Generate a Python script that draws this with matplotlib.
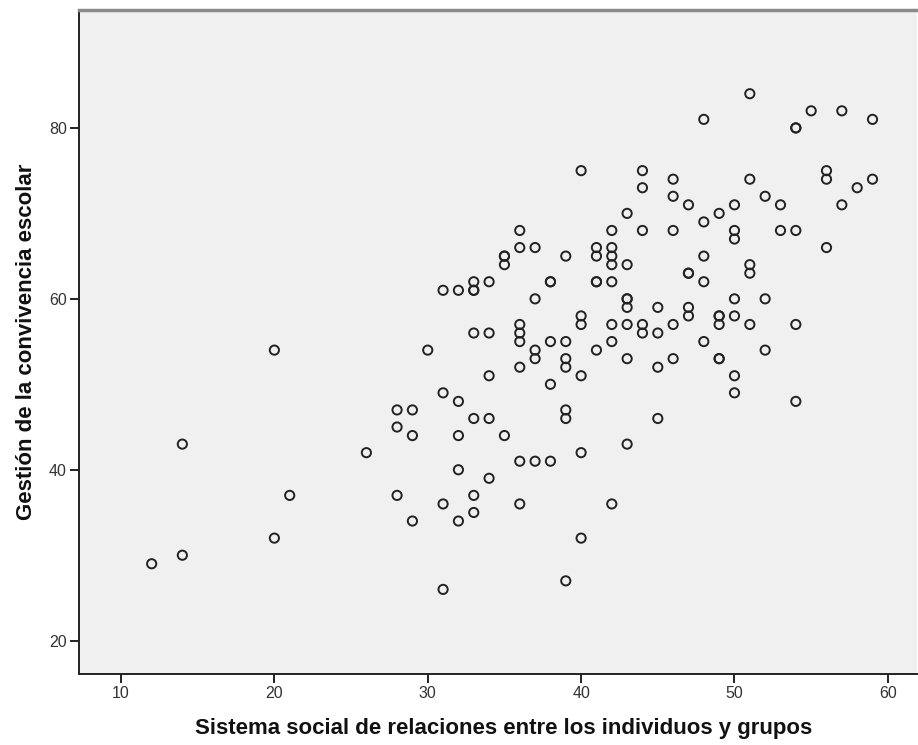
import matplotlib
matplotlib.use("Agg")
import matplotlib.pyplot as plt

# Scatter data (integer scores, repeated pairs kept)
sistema_social = [
    12, 14, 14, 20, 20, 21, 26,
    28, 28, 28, 29, 29, 29, 30,
    31, 31, 31, 31,
    32, 32, 32, 32, 32,
    33, 33, 33, 33, 33, 33, 33,
    34, 34, 34, 34, 34,
    35, 35, 35, 35,
    36, 36, 36, 36, 36, 36, 36, 36,
    37, 37, 37, 37, 37,
    38, 38, 38, 38, 38,
    39, 39, 39, 39, 39, 39, 39,
    40, 40, 40, 40, 40, 40,
    41, 41, 41, 41, 41,
    42, 42, 42, 42, 42, 42, 42, 42,
    43, 43, 43, 43, 43, 43, 43, 43,
    44, 44, 44, 44, 44,
    45, 45, 45, 45,
    46, 46, 46, 46, 46,
    47, 47, 47, 47, 47,
    48, 48, 48, 48, 48,
    49, 49, 49, 49, 49, 49,
    50, 50, 50, 50, 50, 50, 50,
    51, 51, 51, 51, 51,
    52, 52, 52,
    53, 53,
    54, 54, 54, 54, 54,
    55,
    56, 56, 56,
    57, 57,
    58,
    59, 59,
]
gestion_convivencia = [
    29, 43, 30, 54, 32, 37, 42,
    47, 45, 37, 47, 44, 34, 54,
    61, 49, 36, 26,
    61, 48, 44, 40, 34,
    62, 61, 61, 56, 46, 37, 35,
    62, 56, 51, 46, 39,
    65, 65, 64, 44,
    68, 66, 57, 56, 55, 52, 41, 36,
    66, 60, 54, 53, 41,
    62, 62, 55, 50, 41,
    65, 55, 53, 52, 47, 46, 27,
    75, 58, 57, 51, 42, 32,
    66, 65, 62, 62, 54,
    68, 66, 65, 64, 62, 57, 55, 36,
    70, 64, 60, 60, 59, 57, 53, 43,
    75, 73, 68, 57, 56,
    59, 56, 52, 46,
    74, 72, 68, 57, 53,
    71, 63, 63, 59, 58,
    81, 69, 65, 62, 55,
    70, 58, 58, 57, 53, 53,
    71, 68, 67, 60, 58, 51, 49,
    84, 74, 64, 63, 57,
    72, 60, 54,
    71, 68,
    80, 80, 68, 57, 48,
    82,
    75, 74, 66,
    82, 71,
    73,
    81, 74,
]
x_ticks = [10, 20, 30, 40, 50, 60]
y_ticks = [20, 40, 60, 80]
x_label = "Sistema social de relaciones entre los individuos y grupos"
y_label = "Gestión de la convivencia escolar"

plt.rcParams["font.family"] = ["Liberation Sans", "DejaVu Sans"]

fig = plt.figure(figsize=(9.18, 7.45), dpi=100)
ax = fig.add_axes([0.0857, 0.0953, 0.9132, 0.8913])
ax.set_facecolor("#f0f0f0")

ax.scatter(sistema_social, gestion_convivencia, s=44, facecolors="none",
           edgecolors="#222222", linewidths=1.4, zorder=3)

ax.set_xlim(7.24, 61.9)
ax.set_ylim(16.1, 93.8)
ax.set_xticks(x_ticks)
ax.set_yticks(y_ticks)
ax.tick_params(axis="both", direction="out", length=6.5, width=1.4,
               color="#222222", labelsize=11.5, labelcolor="#333333", pad=2)

# Frame: dark left/bottom, grey top, no visible right side
for side in ["left", "bottom"]:
    ax.spines[side].set_color("#222222")
    ax.spines[side].set_linewidth(1.4)
ax.spines["top"].set_color("#8a8a8a")
ax.spines["top"].set_linewidth(2.5)
ax.spines["right"].set_visible(False)

ax.set_xlabel(x_label, fontsize=16, fontweight="bold", color="#111111")
ax.set_ylabel(y_label, fontsize=16, fontweight="bold", color="#111111")
ax.xaxis.set_label_coords(0.5067, -0.0663)
ax.yaxis.set_label_coords(-0.0502, 0.5)

fig.savefig("out.png", dpi=100)
